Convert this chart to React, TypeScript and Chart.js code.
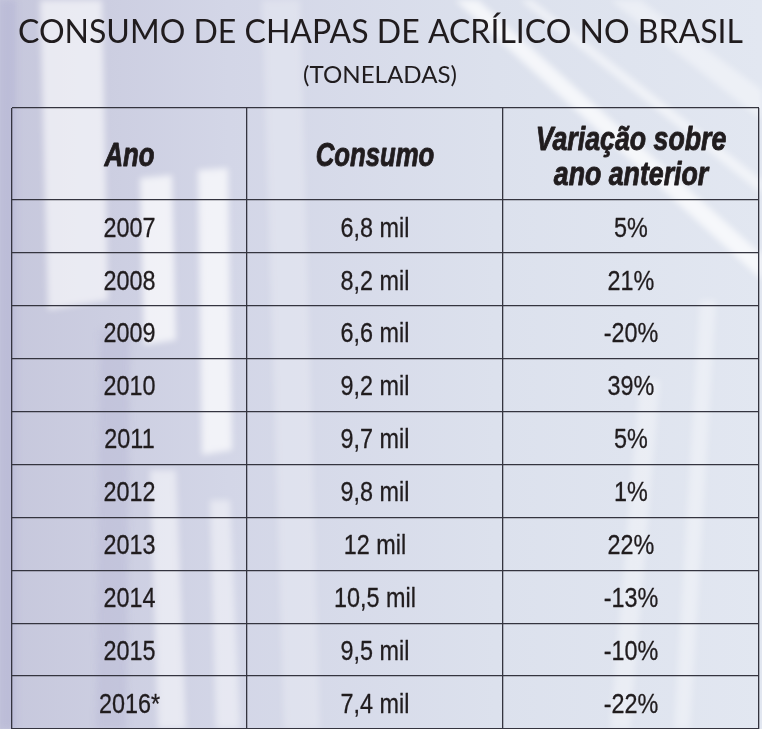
import React, { useEffect, useRef } from 'react';
import { Chart, registerables } from 'chart.js';

Chart.register(...registerables);

// ---------- data ----------
const TITLE = 'CONSUMO DE CHAPAS DE ACRÍLICO NO BRASIL';
const SUBTITLE = '(TONELADAS)';
const HEADERS = [['Ano'], ['Consumo'], ['Variação sobre', 'ano anterior']];
const YEARS = ['2007', '2008', '2009', '2010', '2011', '2012', '2013', '2014', '2015', '2016*'];
const CONSUMO = [6.8, 8.2, 6.6, 9.2, 9.7, 9.8, 12, 10.5, 9.5, 7.4];
const VARIACAO = [5, 21, -20, 39, 5, 1, 22, -13, -10, -22];

// ---------- layout constants ----------
const W = 762;
const H = 729;
const COL_EDGES = [0, 235, 491, 747];
const HEADER_H = 92 / 53;
const ROW_EDGES = [0, ...YEARS.map((_, i) => HEADER_H + i), HEADER_H + YEARS.length];
const TEXT = '#201c1e';
const LINE = '#34343f';

const fmtMil = (v: number) => `${String(v).replace('.', ',')} mil`;
const fmtPct = (v: number) => `${v}%`;
const COLUMNS = [YEARS, CONSUMO.map(fmtMil), VARIACAO.map(fmtPct)];

const cellPoints = YEARS.flatMap((_, r) =>
  COLUMNS.map((col, c) => ({
    x: (COL_EDGES[c] + COL_EDGES[c + 1]) / 2,
    y: HEADER_H + r + 0.5,
    text: col[r],
  }))
);

function drawScaled(
  ctx: CanvasRenderingContext2D,
  text: string,
  x: number,
  y: number,
  font: string,
  sx: number,
  stroke = 0
) {
  ctx.save();
  ctx.translate(x, y);
  ctx.scale(sx, 1);
  ctx.font = font;
  ctx.fillStyle = TEXT;
  ctx.textAlign = 'center';
  ctx.textBaseline = 'alphabetic';
  ctx.fillText(text, 0, 0);
  if (stroke > 0) {
    ctx.strokeStyle = TEXT;
    ctx.lineWidth = stroke;
    ctx.lineJoin = 'round';
    ctx.strokeText(text, 0, 0);
  }
  ctx.restore();
}

function drawFit(
  ctx: CanvasRenderingContext2D,
  text: string,
  cx: number,
  y: number,
  font: string,
  width: number
) {
  ctx.save();
  ctx.font = font;
  const w = ctx.measureText(text).width;
  ctx.restore();
  drawScaled(ctx, text, cx, y, font, width / w);
}

const poly = (ctx: CanvasRenderingContext2D, pts: number[][], fill: string) => {
  ctx.beginPath();
  ctx.moveTo(pts[0][0], pts[0][1]);
  for (let i = 1; i < pts.length; i++) ctx.lineTo(pts[i][0], pts[i][1]);
  ctx.closePath();
  ctx.fillStyle = fill;
  ctx.fill();
};

const tablePlugin = {
  id: 'tablePlugin',
  beforeDraw(chart: any) {
    const ctx: CanvasRenderingContext2D = chart.ctx;
    ctx.save();
    const g = ctx.createLinearGradient(0, 0, W, 0);
    g.addColorStop(0, '#c6c7dc');
    g.addColorStop(0.3, '#d3d6e7');
    g.addColorStop(0.65, '#dce1ed');
    g.addColorStop(1, '#e2e7f1');
    ctx.fillStyle = g;
    ctx.fillRect(0, 0, W, H);
    // decorative glare of the acrylic sheets (soft)
    ctx.filter = 'blur(3px)';
    poly(ctx, [[0, 0], [16, 0], [16, 729], [0, 729]], 'rgba(175,175,210,0.45)');
    poly(ctx, [[40, 0], [102, 0], [108, 300], [48, 310]], 'rgba(255,255,255,0.6)');
    poly(ctx, [[140, 178], [172, 175], [176, 340], [144, 345]], 'rgba(255,255,255,0.7)');
    poly(ctx, [[198, 170], [228, 168], [232, 450], [202, 455]], 'rgba(255,255,255,0.7)');
    poly(ctx, [[100, 330], [130, 330], [126, 729], [96, 729]], 'rgba(185,183,212,0.45)');
    poly(ctx, [[150, 470], [176, 470], [186, 729], [158, 729]], 'rgba(255,255,255,0.5)');
    poly(ctx, [[210, 500], [230, 500], [240, 729], [216, 729]], 'rgba(255,255,255,0.45)');
    poly(ctx, [[262, 0], [300, 0], [320, 729], [284, 729]], 'rgba(255,255,255,0.25)');
    poly(ctx, [[455, 0], [478, 0], [762, 255], [762, 280]], 'rgba(255,255,255,0.7)');
    poly(ctx, [[520, 0], [532, 0], [762, 180], [762, 194]], 'rgba(255,255,255,0.55)');
    poly(ctx, [[610, 0], [640, 0], [762, 90], [762, 120]], 'rgba(255,255,255,0.4)');
    poly(ctx, [[640, 380], [660, 380], [630, 729], [610, 729]], 'rgba(255,255,255,0.35)');
    poly(ctx, [[700, 300], [716, 300], [690, 729], [674, 729]], 'rgba(255,255,255,0.35)');
    ctx.filter = 'none';
    ctx.restore();
  },
  afterDraw(chart: any) {
    const ctx: CanvasRenderingContext2D = chart.ctx;
    const xs = chart.scales.x;
    const ys = chart.scales.y;

    drawFit(ctx, TITLE, 380.5, 43, '400 32px Lato', 725);
    drawFit(ctx, SUBTITLE, 380, 83, '400 23px Lato', 154);

    const hy = ys.getPixelForValue(HEADER_H / 2);
    HEADERS.forEach((lines, c) => {
      const cx = xs.getPixelForValue((COL_EDGES[c] + COL_EDGES[c + 1]) / 2);
      const font = 'italic 700 33px "Liberation Sans", Arial, sans-serif';
      if (lines.length === 1) {
        drawScaled(ctx, lines[0], cx, hy + 12, font, 0.78, 0.9);
      } else {
        drawScaled(ctx, lines[0], cx, hy - 4, font, 0.81, 0.9);
        drawScaled(ctx, lines[1], cx, hy + 31, font, 0.81, 0.9);
      }
    });

    const meta = chart.getDatasetMeta(0);
    const data = chart.data.datasets[0].data as any[];
    meta.data.forEach((el: any, i: number) => {
      drawScaled(ctx, data[i].text, el.x, el.y + 10.3, '400 28px "Liberation Sans", Arial, sans-serif', 0.835, 0.3);
    });
  },
};

export default function App() {
  const ref = useRef<HTMLCanvasElement>(null);
  useEffect(() => {
    const chart = new Chart(ref.current as HTMLCanvasElement, {
      type: 'scatter',
      data: {
        datasets: [
          {
            data: cellPoints as any,
            pointRadius: 0,
            pointHoverRadius: 0,
            showLine: false,
          },
        ],
      },
      options: {
        responsive: false,
        animation: false,
        events: [],
        layout: { padding: { left: 12, right: 3, top: 108, bottom: -1 } },
        plugins: {
          legend: { display: false },
          tooltip: { enabled: false },
          title: { display: false },
        },
        scales: {
          x: {
            type: 'linear',
            min: COL_EDGES[0],
            max: COL_EDGES[COL_EDGES.length - 1],
            ticks: { display: false },
            grid: { drawTicks: false, color: LINE, lineWidth: 1.3 },
            border: { display: false },
            afterBuildTicks: (s: any) => {
              s.ticks = COL_EDGES.map((v) => ({ value: v }));
            },
          },
          y: {
            type: 'linear',
            reverse: true,
            min: ROW_EDGES[0],
            max: ROW_EDGES[ROW_EDGES.length - 1],
            ticks: { display: false },
            grid: { drawTicks: false, color: LINE, lineWidth: 1.3 },
            border: { display: false },
            afterBuildTicks: (s: any) => {
              s.ticks = ROW_EDGES.map((v) => ({ value: v }));
            },
          },
        },
      },
      plugins: [tablePlugin],
    });
    return () => chart.destroy();
  }, []);
  return (
    <div style={{ position: 'fixed', left: 0, top: 0, width: W, height: H, overflow: 'hidden' }}>
      <canvas ref={ref} width={W} height={H} style={{ display: 'block', width: W, height: H }} />
    </div>
  );
}
